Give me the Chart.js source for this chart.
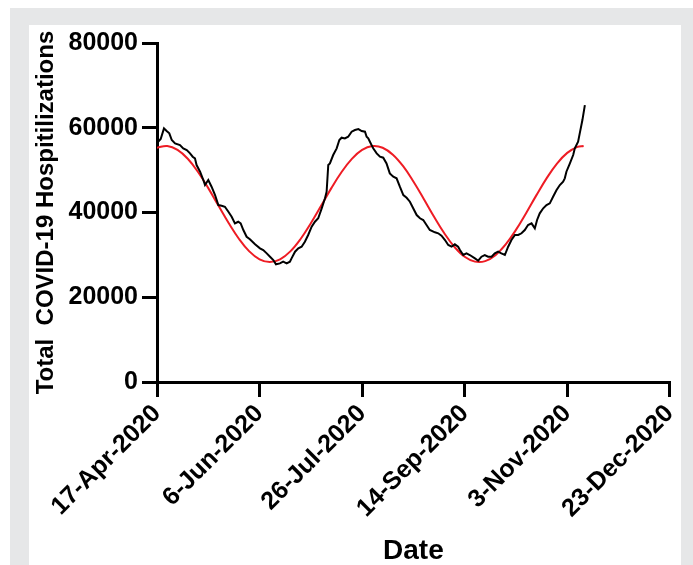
<!DOCTYPE html>
<html>
<head>
<meta charset="utf-8">
<script src="https://cdn.jsdelivr.net/npm/chart.js@4/dist/chart.umd.min.js"></script>
<style>
  body { margin: 0; width: 693px; height: 565px; background: #fff; position: relative; overflow: hidden; }
  #frame { position: absolute; left: 10px; top: 8px; width: 683px; height: 557px; background: #e6e7e8; }
  #panel { position: absolute; left: 29px; top: 25px; width: 652px; height: 540px; background: #fff; }
  #chart { position: absolute; left: 0; top: 0; }
</style>
</head>
<body>
<div id="frame"></div>
<div id="panel"></div>
<canvas id="chart" width="693" height="565"></canvas>
<script>
// x values are days since 17-Apr-2020
var tickDays = [0, 50, 100, 150, 200, 250];
var tickLabels = ["17-Apr-2020", "6-Jun-2020", "26-Jul-2020", "14-Sep-2020", "3-Nov-2020", "23-Dec-2020"];

// observed hospitalizations (black)
var obsDays = [0, 0.6, 1.8, 3.4, 4.7, 6, 7.2, 8.8, 11.2, 12.8, 14.5, 16.1, 17.4, 18.5, 19.3, 21, 22.6, 23.4, 25, 26.6,
    28.3, 29.9, 31.5, 33.1, 34.8, 36.4, 38, 39.6, 40.8, 42.1, 43.7, 45.3, 47.8, 50.2, 51.8, 53.5, 55.1, 56.7, 58, 59.9,
    61.5, 63.2, 64.8, 65.6, 67.3, 68.9, 70.5, 72.1, 73.7, 75.4, 77, 78.6, 80.3, 81.9, 82.7, 83.5, 84.3, 85.9, 87.6, 88.9,
    90, 91.6, 93.2, 94.9, 96.5, 98.2, 99.8, 101.4, 102.2, 103, 103.8, 105.4, 107.1, 108.7, 110.3, 111.9, 113.5, 115.2, 116.8, 118.4,
    120.1, 121.7, 123.3, 124.9, 126.6, 128.2, 129.8, 131.4, 133, 135.5, 137.1, 138.7, 140.4, 142, 143.6, 145.2, 146.8, 147.7, 149.3, 150.9,
    152.5, 155, 156.6, 158.2, 159.8, 161.4, 163.1, 164.7, 166.3, 167.9, 169.6, 171.2, 172.8, 174.5, 176.1, 177.7, 179.3, 180.9, 182.6, 184.2,
    185.3, 186.6, 188.3, 189.9, 191.5, 193.1, 194.8, 196.4, 198, 198.8, 199.6, 201.3, 202.9, 203.7, 205.3, 206.1, 207.4, 208.6];
var obsValues = [57900, 56700, 57340, 59860, 59230, 58680, 57100, 56320, 55920, 55140, 54740, 53960, 53160, 52780, 51200, 49620, 47660, 46480, 47660, 46080,
    44120, 41760, 41600, 41360, 40180, 39000, 37430, 37820, 37430, 35870, 34280, 33700, 32500, 31550, 31150, 30360, 29570, 28790, 27770, 28000,
    28390, 28000, 28390, 29180, 30750, 31550, 31930, 33110, 34690, 36650, 37820, 38630, 40990, 43350, 44910, 51200, 51590, 53560, 55140, 57100,
    57650, 57480, 57880, 59070, 59460, 59700, 59230, 59070, 57880, 57480, 56700, 55140, 53960, 53160, 52940, 51590, 49220, 48440, 48060, 46080,
    44120, 43480, 42540, 40990, 39400, 38630, 38230, 37050, 35870, 35320, 35090, 34520, 33500, 32330, 31930, 32490, 31930, 31150, 29970, 30360,
    29970, 29180, 28620, 29570, 29970, 29570, 29570, 30360, 30750, 30360, 29970, 31930, 33500, 34690, 34690, 35090, 35870, 37050, 37430, 36250,
    38230, 39800, 40990, 41760, 42160, 43720, 45300, 46480, 47260, 48060, 49620, 51590, 53560, 55140, 56700, 58680, 61820, 65360];

// fitted curve (red)
var fitDays = [0, 5, 10, 15, 20, 25, 30, 35, 40, 45, 50, 55, 60, 65, 70, 75, 80, 85, 90, 95, 100,
    105, 110, 115, 120, 125, 130, 135, 140, 145, 150, 155, 160, 165, 170, 175, 180, 185, 190, 195, 200, 205, 208];
var fitValues = [55300, 55680, 54770, 52680, 49560, 45750, 41570, 37450, 33750, 30820, 28940, 28300, 28940, 30820, 33740, 37450, 41570, 45750, 49560, 52670, 54770,
    55670, 55290, 53640, 50920, 47330, 43260, 39060, 35150, 31890, 29560, 28410, 28530, 29930, 32470, 35890, 39900, 44100, 48110, 51550, 54070, 55470, 55700];

function to_points(xs, ys)
{
    var pts = [];
    for (var i = 0; i < xs.length; i++) {
        pts.push({x: xs[i], y: ys[i]});
    }
    return pts;
}

var tickFont = {family: "'Liberation Sans', Arial, sans-serif", size: 25, weight: 'bold'};
var axisGrid = {drawOnChartArea: false, drawTicks: true, tickLength: 15, tickWidth: 3, tickColor: '#000', lineWidth: 3, color: '#000'};

new Chart(document.getElementById("chart").getContext("2d"), {
    type: 'scatter',
    data: {
        datasets: [{
            label: 'Observed',
            data: to_points(obsDays, obsValues),
            showLine: true,
            borderColor: '#000',
            borderWidth: 2,
            pointRadius: 0,
            tension: 0
        }, {
            label: 'Fit',
            data: to_points(fitDays, fitValues),
            showLine: true,
            borderColor: '#ee1c24',
            borderWidth: 2,
            pointRadius: 0,
            tension: 0.4
        }]
    },
    options: {
        responsive: false,
        animation: false,
        events: [],
        layout: {padding: {left: 34, top: 43, right: 23, bottom: 0}},
        plugins: {legend: {display: false}, tooltip: {enabled: false}},
        scales: {
            x: {
                type: 'linear',
                min: 0,
                max: 250,
                afterBuildTicks: function (scale) {
                    scale.ticks = tickDays.map(function (d) { return {value: d}; });
                },
                afterFit: function (scale) { scale.height = 183; },
                ticks: {
                    color: '#000',
                    font: tickFont,
                    padding: 2,
                    minRotation: 45,
                    maxRotation: 45,
                    autoSkip: false,
                    callback: function (v) { return tickLabels[tickDays.indexOf(v)]; }
                },
                grid: axisGrid,
                border: {display: true, color: '#000', width: 3},
                title: {
                    display: true,
                    text: 'Date',
                    color: '#000',
                    padding: 0,
                    font: {family: "'Liberation Sans', Arial, sans-serif", size: 28, weight: 'bold', lineHeight: 1}
                }
            },
            y: {
                min: 0,
                max: 80000,
                afterFit: function (scale) { scale.width = 123; },
                ticks: {
                    stepSize: 20000,
                    color: '#000',
                    font: tickFont,
                    padding: 4,
                    callback: function (v) { return String(v); }
                },
                grid: axisGrid,
                border: {display: true, color: '#000', width: 3},
                title: {
                    display: true,
                    text: 'Total  COVID-19 Hospitilizations',
                    color: '#000',
                    padding: 0,
                    font: {family: "'Liberation Sans', Arial, sans-serif", size: 24, weight: 'bold', lineHeight: 1}
                }
            }
        }
    }
});
</script>
</body>
</html>
